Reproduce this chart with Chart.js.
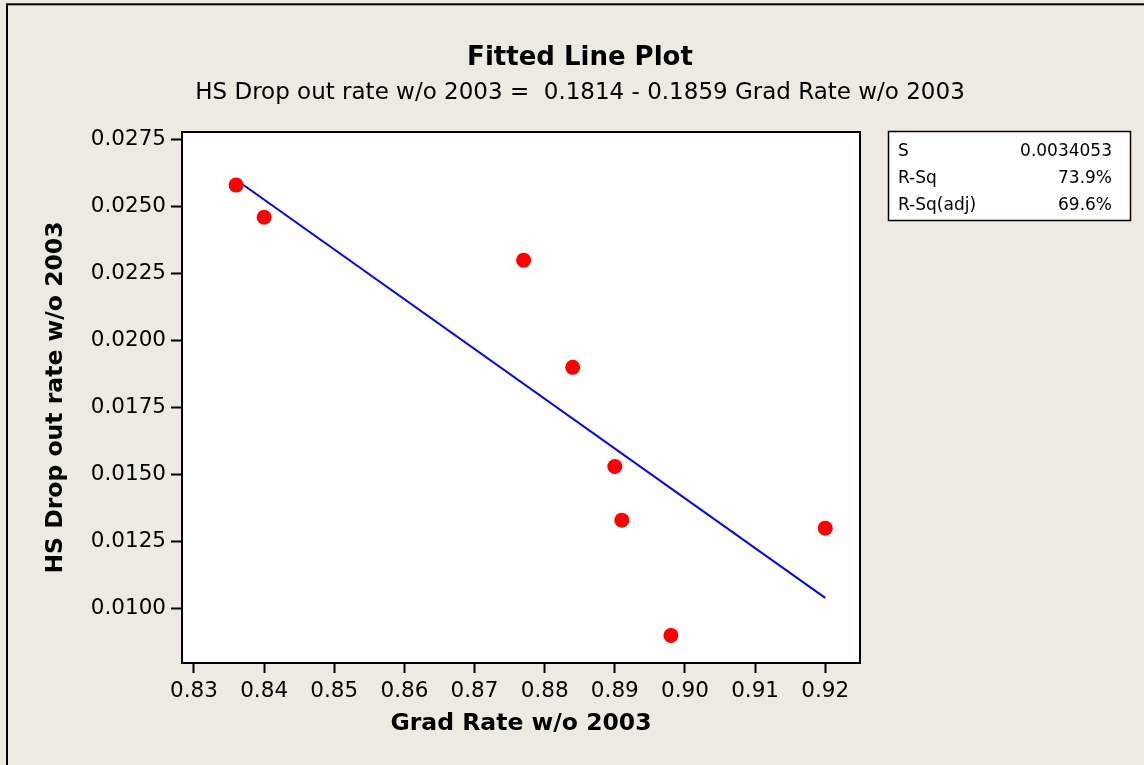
<!DOCTYPE html>
<html lang="en">
<head>
  <meta charset="UTF-8" />
  <title>Fitted Line Plot</title>
  <script src="https://cdn.jsdelivr.net/npm/chart.js"></script>
  <style>
    body {
      margin: 0;
      background: #eeeae1;
    }
    canvas {
      display: block;
    }
  </style>
</head>
<body>
  <canvas id="chart" width="1144" height="765"></canvas>

  <script>
    // data
    const gradRate = [0.836, 0.840, 0.877, 0.884, 0.890, 0.891, 0.898, 0.920];
    const dropRate = [0.0258, 0.0246, 0.0230, 0.0190, 0.0153, 0.0133, 0.0090, 0.0130];
    const fitX = [0.836, 0.920];
    const fitY = [0.0260, 0.0104];
    const xTicks = [0.83, 0.84, 0.85, 0.86, 0.87, 0.88, 0.89, 0.90, 0.91, 0.92];
    const yTicks = [0.0100, 0.0125, 0.0150, 0.0175, 0.0200, 0.0225, 0.0250, 0.0275];
    const statLabels = ['S', 'R-Sq', 'R-Sq(adj)'];
    const statValues = ['0.0034053', '73.9%', '69.6%'];

    const FONT = "'DejaVu Sans', sans-serif";

    // beige page, frame and white plot area
    const backdrop = {
      id: 'backdrop',
      beforeDraw(chart) {
        const { ctx, chartArea: a } = chart;
        ctx.save();
        ctx.fillStyle = '#eeeae1';
        ctx.fillRect(0, 0, chart.width, chart.height);
        ctx.strokeStyle = '#000';
        ctx.lineWidth = 2;
        ctx.strokeRect(7, 4.3, 1300, 900);
        ctx.fillStyle = '#fff';
        ctx.fillRect(a.left, a.top, a.right - a.left, a.bottom - a.top);
        ctx.restore();
      },
      afterDraw(chart) {
        const { ctx, chartArea: a } = chart;
        ctx.save();
        ctx.strokeStyle = '#000';
        ctx.lineWidth = 2;
        ctx.strokeRect(a.left, a.top, a.right - a.left, a.bottom - a.top);

        // stats box
        ctx.fillStyle = '#fff';
        ctx.fillRect(888.5, 131.5, 242, 89);
        ctx.lineWidth = 1.5;
        ctx.strokeRect(888.5, 131.5, 242, 89);
        ctx.fillStyle = '#000';
        ctx.font = '17px ' + FONT;
        ctx.textBaseline = 'middle';
        statLabels.forEach((lbl, i) => {
          const y = 152 + i * 27;
          ctx.textAlign = 'left';
          ctx.fillText(lbl, 898, y);
          ctx.textAlign = 'right';
          ctx.fillText(statValues[i], 1112, y);
        });
        ctx.restore();
      }
    };

    new Chart(document.getElementById('chart'), {
      type: 'scatter',
      data: {
        datasets: [
          {
            label: 'Data',
            data: gradRate.map((x, i) => ({ x: x, y: dropRate[i] })),
            backgroundColor: '#ff0000',
            borderColor: '#ff0000',
            pointRadius: 7.5,
            pointBorderWidth: 0
          },
          {
            label: 'Fit',
            data: fitX.map((x, i) => ({ x: x, y: fitY[i] })),
            showLine: true,
            borderColor: '#0000ff',
            borderWidth: 2,
            pointRadius: 0
          }
        ]
      },
      options: {
        responsive: false,
        animation: false,
        devicePixelRatio: 1,
        layout: { padding: { left: 16, top: 0, right: 0, bottom: 0 } },
        plugins: {
          legend: { display: false },
          tooltip: { enabled: false },
          title: {
            display: true,
            text: 'Fitted Line Plot',
            color: '#000',
            font: { family: FONT, size: 26, weight: 'bold' },
            padding: { top: 42.4, bottom: 0 }
          },
          subtitle: {
            display: true,
            text: 'HS Drop out rate w/o 2003 =  0.1814 - 0.1859 Grad Rate w/o 2003',
            color: '#000',
            font: { family: FONT, size: 23 },
            padding: { top: 5.6, bottom: 25.2 }
          }
        },
        scales: {
          x: {
            type: 'linear',
            min: 0.82829,
            max: 0.92496,
            afterBuildTicks: s => { s.ticks = xTicks.map(v => ({ value: v })); },
            afterFit: s => { s.height = 102; },
            grid: { drawOnChartArea: false, drawTicks: true, tickLength: 10, tickColor: '#000', tickWidth: 2 },
            border: { display: false },
            ticks: {
              color: '#000',
              padding: 6,
              maxRotation: 0,
              font: { family: FONT, size: 21.5 },
              callback: v => v.toFixed(2)
            },
            title: {
              display: true,
              text: 'Grad Rate w/o 2003',
              color: '#000',
              font: { family: FONT, size: 23.5, weight: 'bold' },
              padding: { top: 0, bottom: 27 }
            }
          },
          y: {
            type: 'linear',
            min: 0.00797,
            max: 0.02778,
            afterBuildTicks: s => { s.ticks = yTicks.map(v => ({ value: v })); },
            afterFit: s => { s.width = 166; },
            grid: { drawOnChartArea: false, drawTicks: true, tickLength: 11, tickColor: '#000', tickWidth: 2 },
            border: { display: false },
            ticks: {
              color: '#000',
              padding: 5,
              font: { family: FONT, size: 21.5 },
              callback: v => v.toFixed(4)
            },
            title: {
              display: true,
              text: 'HS Drop out rate w/o 2003',
              color: '#000',
              font: { family: FONT, size: 23.5, weight: 'bold' },
              padding: { top: 26, bottom: 0 }
            }
          },
          y2: {
            type: 'linear',
            position: 'right',
            display: true,
            afterFit: s => { s.width = 284; },
            grid: { display: false },
            border: { display: false },
            ticks: { display: false }
          }
        }
      },
      plugins: [backdrop]
    });
  </script>
</body>
</html>
